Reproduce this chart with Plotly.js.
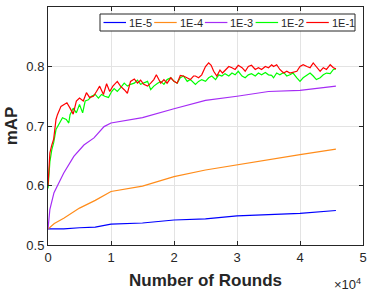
<!DOCTYPE html>
<html><head><meta charset="utf-8">
<script src="https://cdn.plot.ly/plotly-3.0.1.min.js"></script>
<style>html,body{margin:0;padding:0;background:#fff}#chart{width:367px;height:291px}</style>
</head><body><div id="chart"></div>
<script>
// x in units of 10^4 rounds
const xBlue = [0, 0.25, 0.5, 0.75, 1, 1.5, 2, 2.5, 3, 3.5, 4, 4.57];
const yBlue = [0.527, 0.527, 0.529, 0.530, 0.535, 0.537, 0.542, 0.544, 0.549, 0.551, 0.553, 0.558];
const xOrange = [0, 0.1, 0.25, 0.5, 0.75, 1, 1.5, 2, 2.5, 3, 3.5, 4, 4.57];
const yOrange = [0.527, 0.536, 0.545, 0.562, 0.575, 0.590, 0.599, 0.615, 0.626, 0.635, 0.643, 0.652, 0.661];
const xPurple = [0, 0.03, 0.095, 0.25, 0.41, 0.57, 0.73, 0.89, 1.0, 1.5, 2.0, 2.5, 3.0, 3.5, 4.0, 4.57];
const yPurple = [0.527, 0.560, 0.588, 0.621, 0.649, 0.668, 0.680, 0.699, 0.705, 0.714, 0.729, 0.743, 0.750, 0.758, 0.760, 0.767];
const xGreen = [0,0.03,0.06,0.09,0.127,0.18,0.23,0.29,0.33,0.35,0.40,0.45,0.50,0.55,0.59,0.64,0.69,0.75,0.80,0.85,0.90,0.96,1.01,1.05,1.10,1.15,1.21,1.26,1.31,1.37,1.42,1.47,1.52,1.58,1.63,1.68,1.74,1.79,1.84,1.89,1.95,2.00,2.05,2.10,2.15,2.21,2.26,2.31,2.34,2.39,2.44,2.50,2.55,2.60,2.66,2.71,2.76,2.81,2.87,2.92,2.97,3.02,3.08,3.13,3.18,3.23,3.29,3.34,3.39,3.45,3.50,3.55,3.58,3.63,3.68,3.74,3.79,3.84,3.89,3.95,4.00,4.05,4.11,4.16,4.21,4.26,4.32,4.37,4.42,4.48,4.53,4.57];
const yGreen = [0.595,0.640,0.660,0.672,0.694,0.705,0.714,0.711,0.705,0.719,0.730,0.722,0.736,0.722,0.742,0.744,0.750,0.753,0.747,0.753,0.750,0.748,0.758,0.763,0.758,0.764,0.772,0.767,0.770,0.772,0.777,0.770,0.772,0.775,0.761,0.767,0.772,0.775,0.770,0.778,0.781,0.775,0.772,0.781,0.784,0.775,0.778,0.772,0.770,0.775,0.778,0.775,0.781,0.784,0.778,0.786,0.784,0.788,0.784,0.789,0.786,0.792,0.784,0.781,0.786,0.788,0.784,0.789,0.786,0.790,0.786,0.785,0.781,0.789,0.786,0.790,0.784,0.786,0.789,0.781,0.775,0.781,0.786,0.789,0.784,0.778,0.781,0.786,0.789,0.788,0.795,0.796];
const xRed = [0,0.03,0.06,0.09,0.127,0.15,0.206,0.25,0.30,0.35,0.40,0.45,0.50,0.56,0.61,0.66,0.72,0.77,0.82,0.88,0.93,0.98,1.03,1.10,1.15,1.21,1.26,1.31,1.37,1.42,1.47,1.52,1.58,1.63,1.68,1.72,1.79,1.84,1.89,1.95,2.00,2.05,2.10,2.15,2.21,2.26,2.31,2.34,2.39,2.44,2.50,2.55,2.59,2.63,2.68,2.73,2.77,2.81,2.87,2.92,2.97,3.02,3.08,3.13,3.18,3.23,3.29,3.34,3.39,3.45,3.50,3.55,3.58,3.63,3.68,3.74,3.79,3.84,3.89,3.95,4.00,4.05,4.11,4.16,4.21,4.26,4.32,4.37,4.42,4.48,4.53,4.57];
const yRed = [0.600,0.655,0.668,0.678,0.711,0.719,0.733,0.736,0.739,0.730,0.720,0.742,0.747,0.742,0.756,0.748,0.750,0.758,0.767,0.753,0.771,0.758,0.767,0.775,0.767,0.761,0.755,0.775,0.779,0.772,0.777,0.770,0.767,0.772,0.778,0.786,0.772,0.778,0.772,0.781,0.775,0.772,0.785,0.784,0.781,0.778,0.784,0.784,0.781,0.786,0.800,0.806,0.802,0.792,0.784,0.794,0.789,0.794,0.800,0.798,0.795,0.802,0.798,0.792,0.800,0.802,0.795,0.798,0.795,0.800,0.798,0.803,0.800,0.803,0.795,0.789,0.792,0.789,0.790,0.792,0.800,0.803,0.800,0.798,0.806,0.800,0.792,0.798,0.795,0.803,0.798,0.796];
const names = ['1E-5','1E-4','1E-3','1E-2','1E-1'];
const colors = ['#0000ff','#ff8c1a','#a52cf5','#00ff00','#ff0000'];
const xs = [xBlue, xOrange, xPurple, xGreen, xRed];
const ys = [yBlue, yOrange, yPurple, yGreen, yRed];
const traces = names.map((n,i)=>({x:xs[i], y:ys[i], name:n, type:'scatter', mode:'lines', line:{color:colors[i], width:1.2}, showlegend:false}));
const F = 'Liberation Sans, Arial';
const axCommon = {showline:true, mirror:'ticks', linecolor:'#262626', linewidth:1, ticks:'inside', ticklen:4, tickcolor:'#262626',
  showgrid:true, gridcolor:'#e3e3e3', zeroline:false, tickfont:{family:F, size:13, color:'#262626'}};

// Legend (MATLAB-style horizontal box), drawn in paper coordinates
const W = 367, H = 291, mL = 48, mR = 4, mT = 7, mB = 46;
const pw = W - mL - mR, ph = H - mT - mB;
const px = p => (p - mL) / pw, py = p => (H - mB - p) / ph;
const shapes = [{type:'rect', xref:'paper', yref:'paper', x0:px(100), x1:px(355), y0:py(31), y1:py(14), line:{color:'#262626', width:1}, fillcolor:'#ffffff', layer:'above'}];
const annotations = [];
names.forEach((n,i)=>{
  const lx = 103.5 + i*50.7;
  shapes.push({type:'line', xref:'paper', yref:'paper', x0:px(lx), x1:px(lx+22.5), y0:py(22.5), y1:py(22.5), line:{color:colors[i], width:1.2}, layer:'above'});
  annotations.push({xref:'paper', yref:'paper', x:px(lx+23.5), y:py(22.5), xanchor:'left', yanchor:'middle', showarrow:false,
    text:n, font:{family:F, size:11, color:'#262626'}});
});
annotations.push({xref:'paper', yref:'paper', x:1.0, y:-0.165, xanchor:'right', yanchor:'middle', showarrow:false,
    text:'×10<sup>4</sup>', font:{family:F, size:13, color:'#262626'}});

const layout = {
  width:W, height:H, margin:{l:mL, r:mR, t:mT, b:mB},
  paper_bgcolor:'#fff', plot_bgcolor:'#fff', showlegend:false,
  xaxis:Object.assign({}, axCommon, {range:[0,5], dtick:1, title:{text:'<b>Number of Rounds</b>', font:{family:F, size:17, color:'#262626'}, standoff:10}}),
  yaxis:Object.assign({}, axCommon, {range:[0.5,0.9], dtick:0.1, tickformat:'.1f', title:{text:'<b>mAP</b>', font:{family:F, size:17, color:'#262626'}, standoff:4}}),
  shapes:shapes, annotations:annotations
};
Plotly.newPlot('chart', traces, layout, {displayModeBar:false, staticPlot:true});
</script></body></html>
